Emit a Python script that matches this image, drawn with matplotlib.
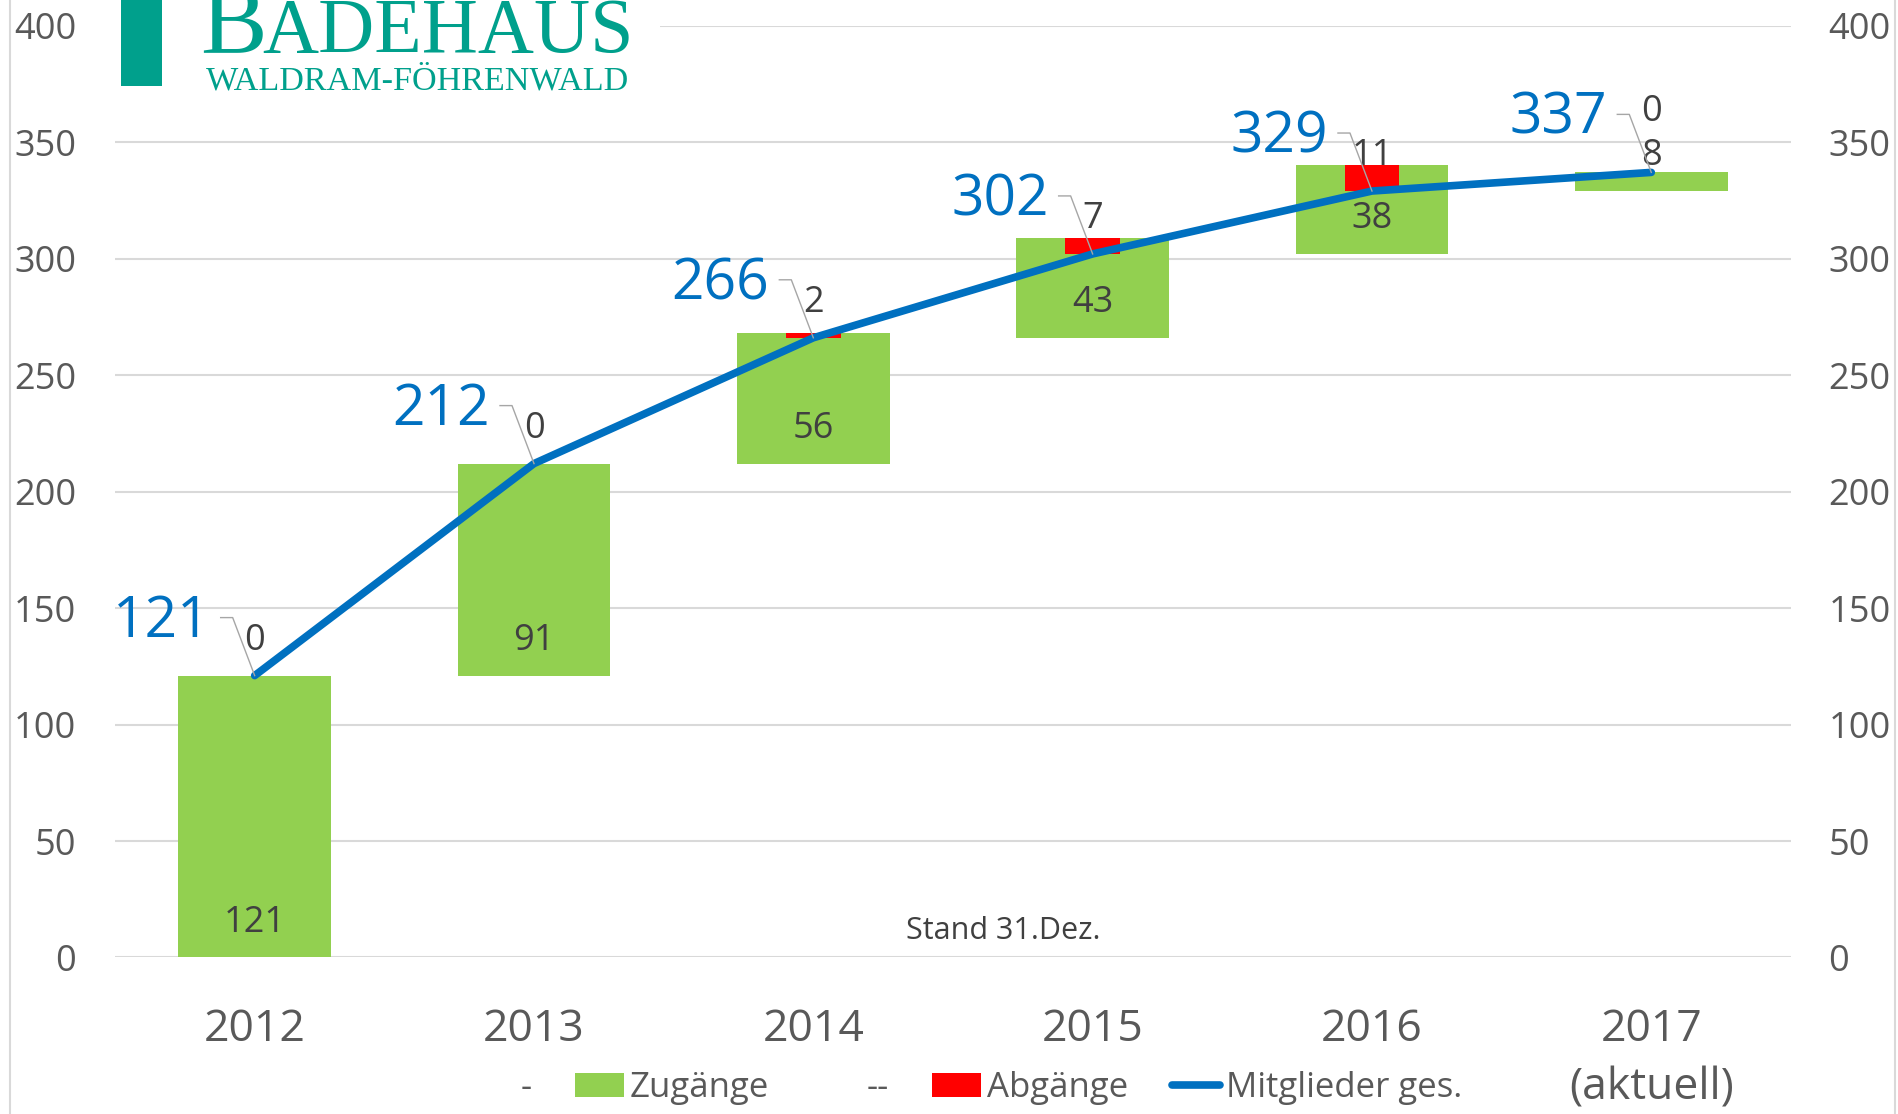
# Mitgliederentwicklung Badehaus Waldram-Föhrenwald (Wasserfall + Linie)
import matplotlib
matplotlib.use("Agg")
import matplotlib.pyplot as plt
import matplotlib.transforms as mtrans
from matplotlib.patches import Patch, Rectangle
from matplotlib.lines import Line2D

plt.rcParams['font.family'] = ['Open Sans', 'DejaVu Sans']

years = ['2012', '2013', '2014', '2015', '2016', '2017\n(aktuell)']
zugaenge = [121, 91, 56, 43, 38, 8]
abgaenge = [0, 0, 2, 7, 11, 0]
mitglieder = [121, 212, 266, 302, 329, 337]
y_ticks = [0, 50, 100, 150, 200, 250, 300, 350, 400]

green = '#92D050'
red = '#FF0000'
blue = '#0070C0'
teal = '#00A08C'
txt = '#404040'
tick_col = '#595959'

start = [0] + mitglieder[:-1]
x = list(range(len(years)))

fig = plt.figure(figsize=(18.98, 11.14), dpi=100)
ax = fig.add_axes([0.0606, 0.1405, 0.883, 0.8365])

ax.bar(x, zugaenge, bottom=start, width=0.546, color=green, zorder=2)
red_bottom = [s + z - a for s, z, a in zip(start, zugaenge, abgaenge)]
ax.bar(x, abgaenge, bottom=red_bottom, width=0.196, color=red, zorder=3)
ax.plot(x, mitglieder, color=blue, lw=5.5, solid_capstyle='round',
        solid_joinstyle='round', zorder=4)

# Beschriftungen
for i in x:
    zy = start[i] + 15
    ay = mitglieder[i] + 15
    if abs(ay - zy) < 12:
        ay += 11
    ax.text(i, zy, str(zugaenge[i]), ha='center', va='center',
            fontsize=26, color=txt, zorder=5)
    ax.text(i, ay, str(abgaenge[i]), ha='center', va='center',
            fontsize=26, color=txt, zorder=5)

    ax.annotate(str(mitglieder[i]), xy=(i, mitglieder[i]),
                xytext=(-44 * 0.72, 53 * 0.72), textcoords='offset points',
                ha='right', va='center', fontsize=41, color=blue, zorder=6)
    tr = fig.dpi_scale_trans + mtrans.ScaledTranslation(i, mitglieder[i], ax.transData)
    ax.add_line(Line2D([-0.34, -0.22, 0], [0.58, 0.58, 0], transform=tr,
                       color='#A6A6A6', lw=1, zorder=5))

ax.text(0.53, 0.028, 'Stand 31.Dez.', transform=ax.transAxes, ha='center',
        va='center', fontsize=22, color=txt)

ax.set_xlim(-0.5, 5.5)
ax.set_ylim(0, 400)
ax.set_yticks(y_ticks)
ax.set_xticks(x)
ax.set_xticklabels(years, linespacing=1.42)
ax.grid(axis='y', color='#D9D9D9', lw=1.5, zorder=0)
ax.set_axisbelow(True)
for s in ax.spines.values():
    s.set_visible(False)
ax.tick_params(axis='y', length=0, pad=28, labelsize=26, labelcolor=tick_col)
ax.tick_params(axis='x', length=0, pad=36, labelsize=32, labelcolor=tick_col)

ax2 = ax.twinx()
ax2.set_ylim(0, 400)
ax2.set_yticks(y_ticks)
for s in ax2.spines.values():
    s.set_visible(False)
ax2.tick_params(axis='y', length=0, pad=27, labelsize=26, labelcolor=tick_col)

handles = [
    Patch(facecolor='none', edgecolor='none', label='-'),
    Patch(facecolor=green, label='Zugänge'),
    Patch(facecolor='none', edgecolor='none', label='--'),
    Patch(facecolor=red, label='Abgänge'),
    Line2D([], [], color=blue, lw=5.5, solid_capstyle='round', label='Mitglieder ges.'),
]
leg = fig.legend(handles=handles, loc='center', bbox_to_anchor=(0.508, 1 - 1088 / 1114),
                 ncol=5, frameon=False, fontsize=25, handlelength=1.4,
                 handletextpad=0.17, columnspacing=1.25, borderaxespad=0)
for t in leg.get_texts():
    t.set_color(tick_col)

# Rahmenlinien links/rechts
fig.add_artist(Line2D([10 / 1898, 10 / 1898], [0, 1], transform=fig.transFigure,
                      color='#D9D9D9', lw=1.5))
fig.add_artist(Line2D([1895 / 1898, 1895 / 1898], [0, 1], transform=fig.transFigure,
                      color='#D9D9D9', lw=1.5))

# Logo
fig.add_artist(Rectangle((100 / 1898, 1 - 96 / 1114), 560 / 1898, 96 / 1114,
                         transform=fig.transFigure, facecolor='white',
                         edgecolor='none', zorder=1))
fig.add_artist(Rectangle((121 / 1898, 1 - 86 / 1114), 41 / 1898, 0.1,
                         transform=fig.transFigure, facecolor=teal,
                         edgecolor='none', zorder=2))
fig.text(200 / 1898, 1 - 52 / 1114, 'B', fontsize=72, color=teal,
         family='Liberation Serif', va='baseline', ha='left', zorder=3)
fig.text(262 / 1898, 1 - 52 / 1114, 'ADEHAUS', fontsize=56, color=teal,
         family='Liberation Serif', va='baseline', ha='left', zorder=3)
fig.text(206 / 1898, 1 - 89 / 1114, 'WALDRAM-FÖHRENWALD', fontsize=24.6, color=teal,
         family='Liberation Serif', va='baseline', ha='left', zorder=3)

fig.savefig('out.png', dpi=100, facecolor='white')
